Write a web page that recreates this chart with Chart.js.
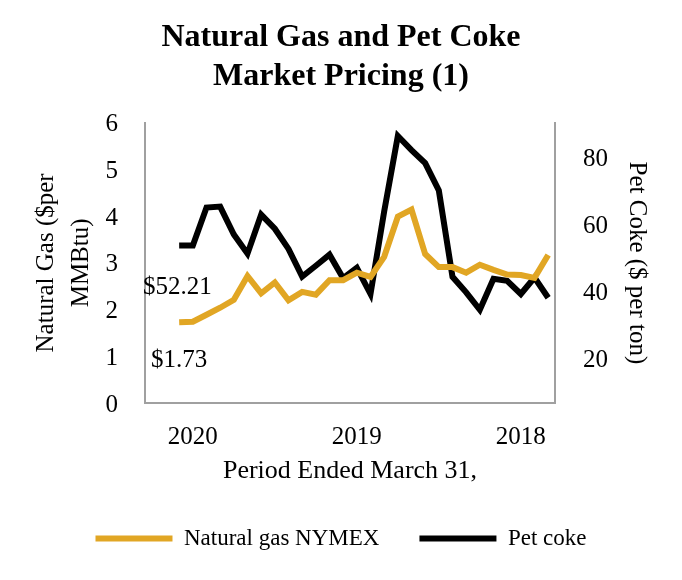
<!DOCTYPE html>
<html>
<head>
<meta charset="utf-8">
<script src="https://cdn.jsdelivr.net/npm/chart.js@4"></script>
<style>
  html, body { margin: 0; padding: 0; background: #fff; }
  #wrap { width: 682px; height: 580px; position: relative; }
</style>
</head>
<body>
<div id="wrap"><canvas id="priceChart"></canvas></div>
<script>
// Data (monthly, newest on the left; first two slots are empty)
const periodLabels = ['', '', '', '2020', '', '', '', '', '', '', '', '', '', '', '',
                      '2019', '', '', '', '', '', '', '', '', '', '', '', '2018', '', ''];
const gasPrices = [null, null, 1.73, 1.74, 1.89, 2.04, 2.21, 2.72, 2.35, 2.58, 2.20, 2.38, 2.32, 2.63,
                   2.63, 2.79, 2.70, 3.13, 3.99, 4.14, 3.19, 2.91, 2.91, 2.79, 2.96, 2.85, 2.75, 2.74, 2.68, 3.17];
const petCokePrices = [null, null, 52.21, 52.25, 63.5, 63.8, 55.5, 49.8, 61.4, 57.2, 51.2, 43.0, 46.2, 49.5,
                       42.5, 45.6, 37.8, 62.3, 84.8, 80.6, 76.7, 68.6, 42.9, 38.3, 33.1, 42.3, 41.7, 37.8, 42.7, 36.7];
const gasTicks = [0, 1, 2, 3, 4, 5, 6];
const cokeTicks = [20, 40, 60, 80];

const gold = '#E1A624';
const axisGray = '#a0a0a0';
const serif = "'Liberation Serif', 'Times New Roman', serif";

Chart.defaults.font.family = serif;
Chart.defaults.color = '#000';

// Text callouts for the latest values
const callouts = {
    id: 'callouts',
    afterDatasetsDraw(chart) {
        const { ctx, chartArea } = chart;
        ctx.save();
        ctx.font = '25px ' + serif;
        ctx.fillStyle = '#000';
        ctx.textAlign = 'left';
        ctx.textBaseline = 'middle';
        ctx.fillText('$' + petCokePrices[2].toFixed(2), chartArea.left - 2, chartArea.top + 165);
        ctx.fillText('$' + gasPrices[2].toFixed(2), chartArea.left + 6, chartArea.top + 238);
        ctx.restore();
    }
};

new Chart(document.getElementById('priceChart'), {
    type: 'line',
    data: {
        labels: periodLabels,
        datasets: [{
            label: 'Natural gas NYMEX',
            data: gasPrices,
            borderColor: gold,
            backgroundColor: gold,
            borderWidth: 6,
            pointRadius: 0,
            tension: 0,
            yAxisID: 'yGas'
        }, {
            label: 'Pet coke',
            data: petCokePrices,
            borderColor: '#000',
            backgroundColor: '#000',
            borderWidth: 6,
            pointRadius: 0,
            tension: 0,
            yAxisID: 'yCoke'
        }]
    },
    options: {
        responsive: true,
        maintainAspectRatio: false,
        animation: false,
        layout: { padding: { top: 0, left: 0, right: 0, bottom: 20 } },
        plugins: {
            title: {
                display: true,
                text: ['Natural Gas and Pet Coke', 'Market Pricing (1)'],
                font: { size: 32, weight: 'bold', lineHeight: 1.2 },
                color: '#000',
                padding: { top: 19, bottom: 27 }
            },
            legend: {
                position: 'bottom',
                labels: {
                    usePointStyle: true,
                    pointStyle: 'line',
                    pointStyleWidth: 77,
                    padding: 40,
                    font: { size: 23 },
                    color: '#000'
                }
            },
            tooltip: { enabled: false }
        },
        scales: {
            x: {
                offset: true,
                grid: { display: false, drawTicks: false },
                border: { display: true, color: axisGray, width: 2 },
                ticks: {
                    autoSkip: false,
                    maxRotation: 0,
                    padding: 19,
                    font: { size: 25 },
                    color: '#000'
                },
                title: {
                    display: true,
                    text: 'Period Ended March 31,',
                    font: { size: 26 },
                    color: '#000',
                    padding: 0
                },
                afterFit(scale) { scale.height = 84; }
            },
            yGas: {
                position: 'left',
                min: 0,
                max: 6,
                grid: { display: false, drawTicks: false },
                border: { display: true, color: axisGray, width: 2 },
                afterBuildTicks(scale) { scale.ticks = gasTicks.map(v => ({ value: v })); },
                ticks: { padding: 27, labelOffset: 2, font: { size: 25 }, color: '#000' },
                title: {
                    display: true,
                    text: ['Natural Gas ($per', 'MMBtu)'],
                    font: { size: 25, lineHeight: 1.4 },
                    color: '#000',
                    padding: { top: 29, bottom: 0 }
                },
                afterFit(scale) { scale.width = 145; }
            },
            yCoke: {
                position: 'right',
                min: 5.4,
                max: 88.7,
                grid: { display: false, drawTicks: false },
                border: { display: true, color: axisGray, width: 2 },
                afterBuildTicks(scale) { scale.ticks = cokeTicks.map(v => ({ value: v })); },
                ticks: { padding: 28, labelOffset: 7, font: { size: 25 }, color: '#000' },
                title: {
                    display: true,
                    text: 'Pet Coke ($ per ton)',
                    font: { size: 25, lineHeight: 1.2 },
                    color: '#000',
                    padding: { top: 30, bottom: 0 }
                },
                afterFit(scale) { scale.width = 127; }
            }
        }
    },
    plugins: [callouts]
});
</script>
</body>
</html>
